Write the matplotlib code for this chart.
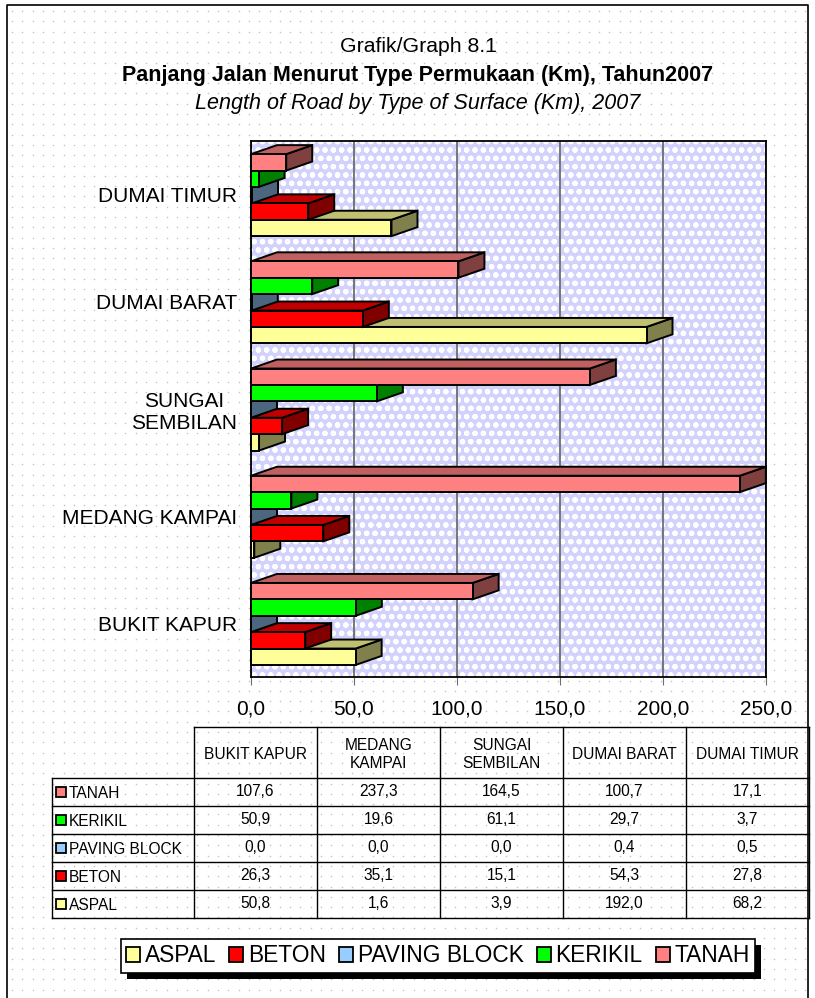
import numpy as np
import matplotlib.pyplot as plt
from matplotlib.patches import Polygon, Rectangle, Patch

plt.rcParams['font.family'] = ['Liberation Sans', 'DejaVu Sans']
plt.rcParams['hatch.linewidth'] = 1.5

# data (Km), per kecamatan
kecamatan = ['BUKIT KAPUR', 'MEDANG KAMPAI', 'SUNGAI\nSEMBILAN', 'DUMAI BARAT', 'DUMAI TIMUR']
kolom_tabel = ['BUKIT KAPUR', 'MEDANG\nKAMPAI', 'SUNGAI\nSEMBILAN', 'DUMAI BARAT', 'DUMAI TIMUR']
jenis = ['ASPAL', 'BETON', 'PAVING BLOCK', 'KERIKIL', 'TANAH']
aspal = [50.8, 1.6, 3.9, 192.0, 68.2]
beton = [26.3, 35.1, 15.1, 54.3, 27.8]
paving = [0.0, 0.0, 0.0, 0.4, 0.5]
kerikil = [50.9, 19.6, 61.1, 29.7, 3.7]
tanah = [107.6, 237.3, 164.5, 100.7, 17.1]
xticks = [0, 50, 100, 150, 200, 250]
xtick_labels = ['0,0', '50,0', '100,0', '150,0', '200,0', '250,0']

series = [aspal, beton, paving, kerikil, tanah]
# front, top, side colours
warna = [('#ffff99', '#c0c073', '#80804c'),
         ('#ff0000', '#c00000', '#800000'),
         ('#99ccff', '#6f8fb0', '#4c6680'),
         ('#00ff00', '#00c000', '#008000'),
         ('#ff8080', '#c06060', '#804040')]

W, H = 815, 998
fig = plt.figure(figsize=(W / 100, H / 100), dpi=100)

# background layer in pixel coords
bg = fig.add_axes([0, 0, 1, 1], zorder=0)
bg.set_xlim(0, W)
bg.set_ylim(H, 0)
bg.axis('off')
gx, gy = np.meshgrid(np.arange(12, W, 10.3), np.arange(11, H, 10.3))
bg.scatter(gx.ravel(), gy.ravel(), s=1.3, c='#c4c4c4', lw=0)
bg.plot([7, 7, 808, 808], [H, 5, 5, H], color='black', lw=1.2)

# titles
fig.text(418 / W, 1 - 47 / H, 'Grafik/Graph 8.1', ha='center', va='center', fontsize=15.3)
fig.text(418 / W, 1 - 75 / H, 'Panjang Jalan Menurut Type Permukaan (Km), Tahun2007',
         ha='center', va='center', fontsize=15.5, fontweight='bold')
fig.text(418 / W, 1 - 103 / H, 'Length of Road by Type of Surface (Km), 2007',
         ha='center', va='center', fontsize=15.5, style='italic')

# main chart
ax = fig.add_axes([251 / W, 1 - 677 / H, 515 / W, 536 / H], zorder=2)
ax.set_xlim(0, 250)
ax.set_ylim(0, 5)
ax.set_facecolor('#d2d2fc')
ax.add_patch(Rectangle((0, 0), 1, 1, transform=ax.transAxes, fc='none', ec='white',
                       lw=0, hatch='oo', zorder=0.1))
for s in ax.spines.values():
    s.set_color('black')
    s.set_linewidth(1.3)
ax.xaxis.grid(True, color='#6e6e6e', lw=1.3)
ax.set_axisbelow(True)
ax.set_xticks(xticks, xtick_labels, fontsize=15)
ax.tick_params(axis='x', length=6, color='#6e6e6e', pad=10)
ax.set_yticks(np.arange(5) + 0.5, kecamatan, fontsize=15)
ax.tick_params(axis='y', length=0, pad=10)
for t in ax.get_yticklabels():
    t.set_multialignment('center')

dx = 26 * 250 / 515
dy = 9 * 5 / 536
h = 0.153
for i in range(5):
    c = i + 0.495
    for k in range(5):
        v = series[k][i]
        f, tp, sd = warna[k]
        y0 = c - 2.5 * h + k * h
        y1 = y0 + h
        kw = dict(ec='black', lw=1.4, clip_on=False, zorder=3)
        ax.add_patch(Polygon([(v, y0), (v + dx, y0 + dy), (v + dx, y1 + dy), (v, y1)], fc=sd, **kw))
        ax.add_patch(Polygon([(0, y1), (v, y1), (v + dx, y1 + dy), (dx, y1 + dy)], fc=tp, **kw))
        ax.add_patch(Rectangle((0, y0), v, h, fc=f, **kw))

# data table
cols = [52, 194, 317, 440, 563, 686, 809]
rows = [727, 778, 806, 834, 862, 890, 918]
lk = dict(color='black', lw=1)
bg.plot([cols[1], cols[-1]], [rows[0], rows[0]], **lk)
for y in rows[1:]:
    bg.plot([cols[0], cols[-1]], [y, y], **lk)
for x in cols[1:]:
    bg.plot([x, x], [rows[0], rows[-1]], **lk)
bg.plot([cols[0], cols[0]], [rows[1], rows[-1]], **lk)
for j, nama in enumerate(kolom_tabel):
    bg.text((cols[j + 1] + cols[j + 2]) / 2, (rows[0] + rows[1]) / 2 + 2, nama,
            ha='center', va='center', fontsize=11.2, linespacing=1.3)
for r, k in enumerate([4, 3, 2, 1, 0]):
    yc = (rows[r + 1] + rows[r + 2]) / 2
    bg.add_patch(Rectangle((56, yc - 5), 10, 10, fc=warna[k][0], ec='black', lw=1.3))
    bg.text(69, yc + 1, jenis[k], ha='left', va='center', fontsize=11.2)
    for j in range(5):
        bg.text((cols[j + 1] + cols[j + 2]) / 2, yc, f'{series[k][j]:.1f}'.replace('.', ','),
                ha='center', va='center', fontsize=11.2)

# legend with black shadow
handles = [Patch(fc=w[0], ec='black', lw=1.3) for w in warna]
leg = fig.legend(handles, jenis, loc='center', bbox_to_anchor=(438 / W, 1 - 956 / H), ncol=5,
                 fontsize=16.4, frameon=True, fancybox=False, edgecolor='black', framealpha=1,
                 handlelength=0.6, handleheight=0.6, handletextpad=0.2, columnspacing=0.6,
                 borderpad=0.25)
leg.get_frame().set_linewidth(1.2)
fig.canvas.draw()
bb = leg.get_window_extent()
bg.add_patch(Rectangle((bb.x0 + 6, H - bb.y1 + 6), bb.width, bb.height, fc='black', ec='none'))

fig.savefig('out.png', dpi=100)
